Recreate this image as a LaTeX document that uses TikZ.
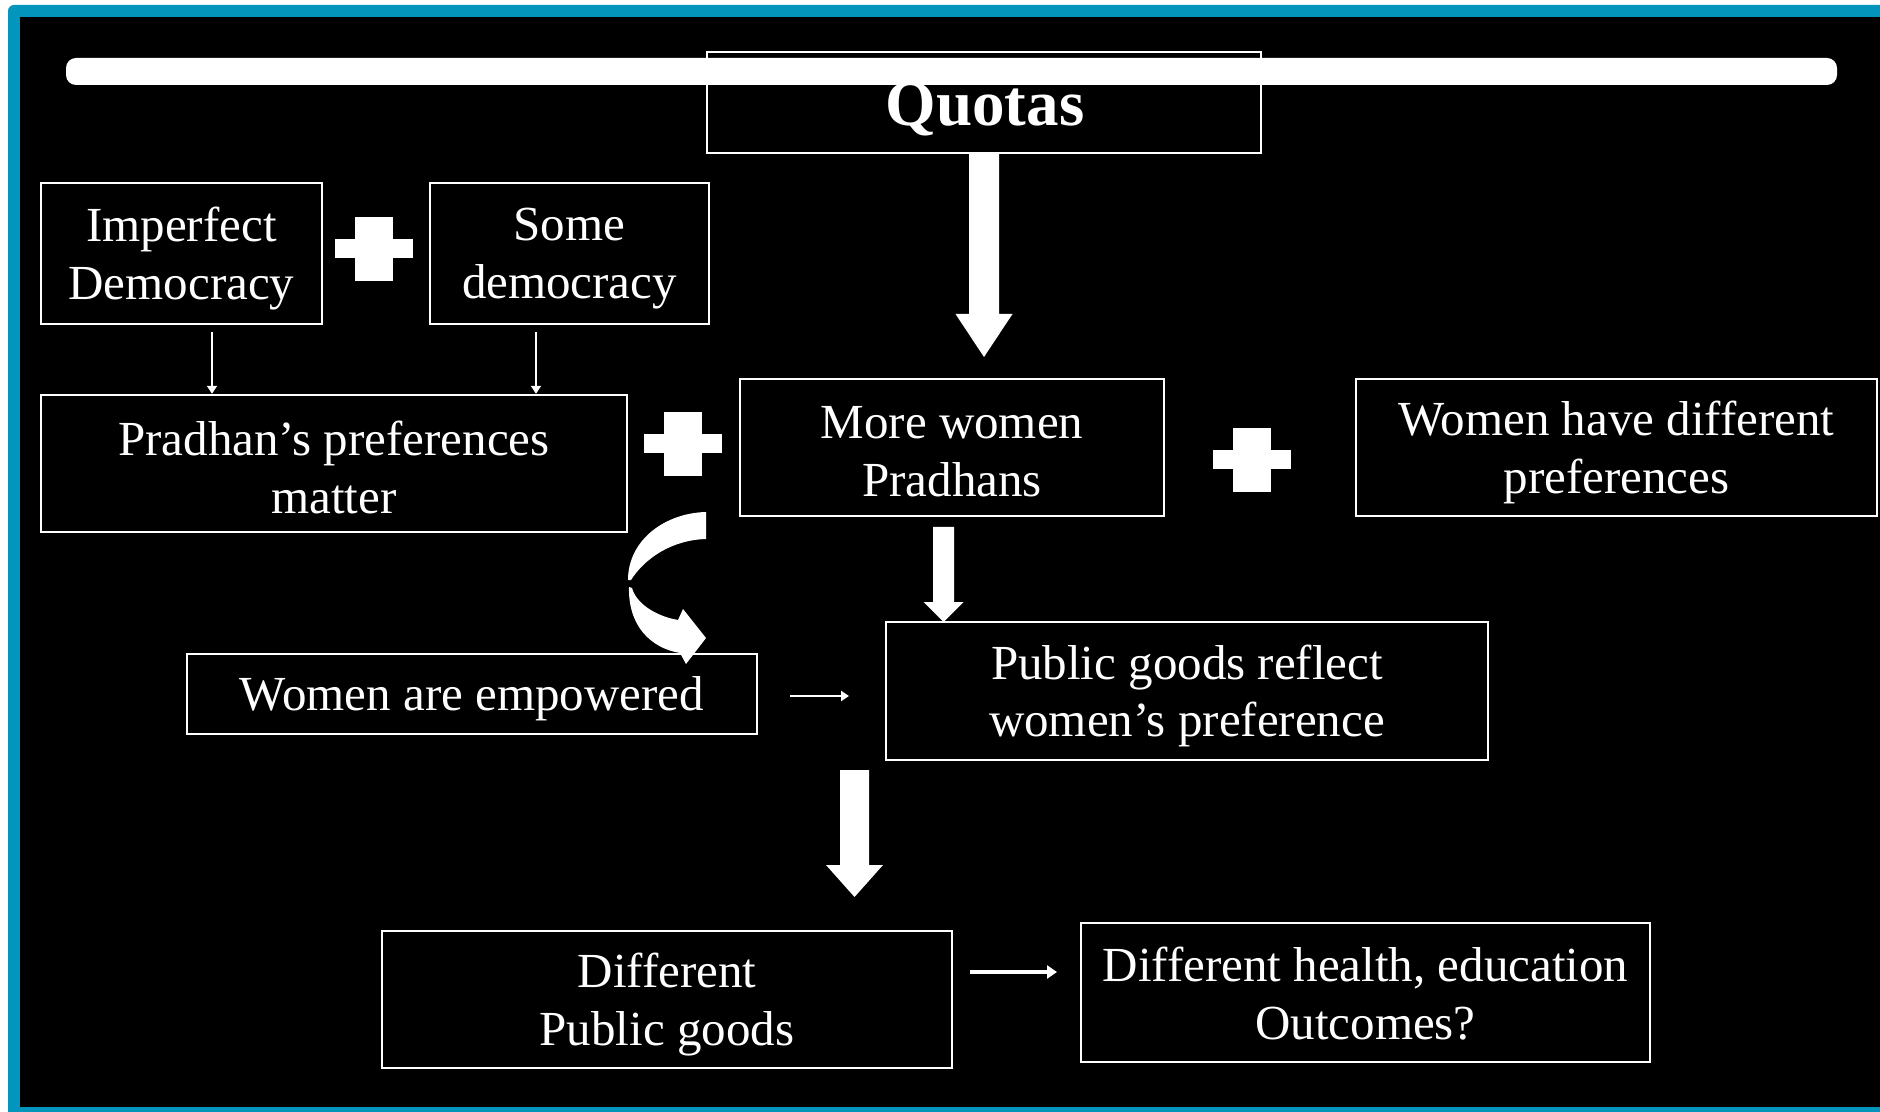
\documentclass[tikz,border=0pt]{standalone}
\usepackage{fontspec}
\setmainfont{Liberation Serif}
\usetikzlibrary{arrows.meta,calc}
\definecolor{frameteal}{RGB}{3,149,188}
\newcommand\myBlockDown[5]{% start, tip, half shaft, half head, head length
  \fill[white] ($(#2 |- #1)+(-#3,0)$) -- ($(#2)+(-#3,-#5)$) -- ($(#2)+(-#4,-#5)$) -- (#2)
    -- ($(#2)+(#4,-#5)$) -- ($(#2)+(#3,-#5)$) -- ($(#2 |- #1)+(#3,0)$) -- cycle;}
\begin{document}
\begin{tikzpicture}[x=0.5pt,y=-0.5pt,
  box/.style={draw=white, line width=1.2pt, rectangle, inner sep=0pt},
  lbl/.style={align=center, inner sep=0pt, text=white, font=\fontsize{24.5}{28.8}\selectfont},
  thinarrow/.style={draw=white, line width=1.1pt, -{Triangle[length=4pt,width=5pt]}},
  medarrow/.style={draw=white, line width=2pt, -{Triangle[length=5pt,width=6.5pt]}},
  plussign/.pic={\fill[white] (-39,-9.5) rectangle (39,9.5);
                 \fill[white] (-19,-32) rectangle (19,32);}
]
\useasboundingbox (0,0) rectangle (1880,1112);
\clip (0,0) rectangle (1880,1112);
% frame
\fill[white] (0,0) rectangle (1880,1112);
\fill[frameteal, rounded corners=3pt] (8,5) rectangle (1900,1130);
\fill[black] (20,17) rectangle (1900,1107);

% Quotas box and bar
\node[box, minimum width=277pt, minimum height=50.5pt] (quotas) at (984,102.5) {};
\fill[white, rounded corners=5pt] (66,58) rectangle (1837,85);
\node[text=white, font=\bfseries\fontsize{32.5}{36}\selectfont, inner sep=0pt] (quotaslabel) at (985,109) {Quotas};

% boxes
\node[box, minimum width=140.5pt, minimum height=70.5pt] (imperfect) at (181.5,253.5) {};
\node[box, minimum width=139.5pt, minimum height=70.5pt] (some) at (569.5,253.5) {};
\node[box, minimum width=293pt, minimum height=68.5pt] (pradhan) at (334,463.5) {};
\node[box, minimum width=212pt, minimum height=68.5pt] (morewomen) at (952,447.5) {};
\node[box, minimum width=260.5pt, minimum height=68.5pt] (womendiff) at (1616.5,447.5) {};
\node[box, minimum width=285pt, minimum height=40pt] (empowered) at (472,694) {};
\node[box, minimum width=301pt, minimum height=69pt] (reflect) at (1187,691) {};
\node[box, minimum width=285pt, minimum height=68.5pt] (diffpublic) at (667,999.5) {};
\node[box, minimum width=284.5pt, minimum height=69.5pt] (outcomes) at (1365.5,992.5) {};

% labels
\node[lbl] (t1) at ([yshift=-2.5pt]imperfect.center) {Imperfect\\Democracy};
\node[lbl] (t2) at ([yshift=-2.5pt]some.center) {Some\\democracy};
\node[lbl] (t3) at ([yshift=-2pt]pradhan.center) {Pradhan’s preferences\\matter};
\node[lbl] (t4) at ([yshift=-2pt]morewomen.center) {More women\\Pradhans};
\node[lbl] (t5) at ([yshift=-2.5pt]womendiff.center) {Women have different\\preferences};
\node[lbl] (t6) at ([yshift=-2.5pt]empowered.center) {Women are empowered};
\node[lbl] (t7) at ([yshift=-2.5pt]reflect.center) {Public goods reflect\\women’s preference};
\node[lbl] (t8) at ([yshift=-2.5pt]diffpublic.center) {Different\\Public goods};
\node[lbl] (t9) at ([yshift=-0.5pt]outcomes.center) {Different health, education\\Outcomes?};

% plus signs
\pic at (374,249) {plussign};
\pic at (683,444) {plussign};
\pic at (1252,460) {plussign};

% block arrows
\coordinate (qtip) at (984,357);
\myBlockDown{quotas.south}{qtip}{15}{28.5}{43}
\coordinate (mstart) at (943.5,527);
\coordinate (mtip) at (943.5,622);
\myBlockDown{mstart}{mtip}{10.5}{20}{20}
\coordinate (rstart) at (854.5,770);
\coordinate (rtip) at (854.5,897);
\myBlockDown{rstart}{rtip}{14.5}{28.5}{32}

% thin arrows
\coordinate (ia) at (212,332);
\coordinate (sa) at (536,332);
\draw[thinarrow] (ia) -- (ia |- pradhan.north);
\draw[thinarrow] (sa) -- (sa |- pradhan.north);
\coordinate (ea) at (790,696);
\coordinate (eb) at (849,696);
\draw[thinarrow] (ea) -- (eb);
\coordinate (da) at (970,972);
\coordinate (db) at (1057,972);
\draw[medarrow] (da) -- (db);

% curved arrow
\fill[white] (706,512) .. controls (665,513) and (628,540) .. (628,580) -- (631,580)
  .. controls (645,558) and (672,540) .. (706,539) -- cycle;
\fill[white] (629,587) .. controls (628,625) and (650,648) .. (680,653) -- (686,664) -- (706,638)
  -- (683,609) -- (678,620) .. controls (655,616) and (636,603) .. (632,588) -- cycle;
\end{tikzpicture}
\end{document}
